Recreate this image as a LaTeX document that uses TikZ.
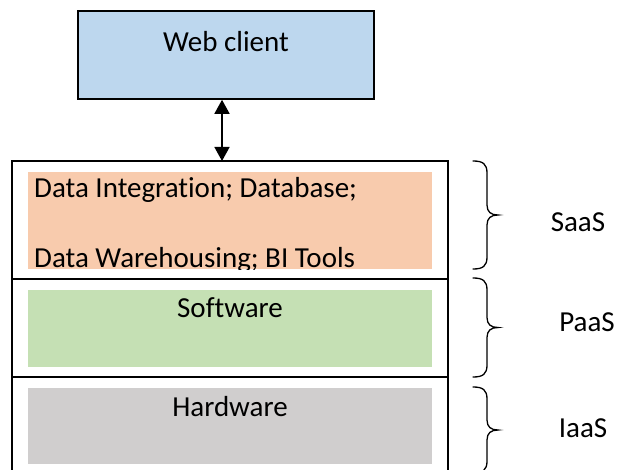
\documentclass[tikz,border=0pt]{standalone}
\usepackage{fontspec}
\setmainfont{Carlito}[Ligatures=NoCommon]
\usetikzlibrary{arrows.meta}
\definecolor{clientblue}{HTML}{BDD7EE}
\definecolor{saasfill}{HTML}{F8CBAD}
\definecolor{paasfill}{HTML}{C5E0B4}
\definecolor{iaasfill}{HTML}{D0CECE}
% curly brace at x=#1 from y=#2 down to y=#3
\newcommand\layerbrace[3]{%
  \pgfmathsetmacro\bracemid{(#2+#3)/2}
  \draw[brace] (#1,#2) .. controls (#1+10,#2) and (#1+14,#2+3) .. (#1+14,#2+12)
    -- (#1+14,\bracemid-10) .. controls (#1+14,\bracemid-3) and (#1+18,\bracemid) .. (#1+25,\bracemid)
    .. controls (#1+18,\bracemid) and (#1+14,\bracemid+3) .. (#1+14,\bracemid+10)
    -- (#1+14,#3-12) .. controls (#1+14,#3-3) and (#1+10,#3) .. (#1,#3);}
\begin{document}
\begin{tikzpicture}[x=1pt, y=-1pt, line join=miter,
    every node/.style = {font=\fontsize{29}{35}\selectfont, inner sep=0pt},
    client/.style = {draw, line width=1.6pt, fill=clientblue, minimum width=296pt, minimum height=88pt},
    layer/.style = {draw=none, minimum width=404pt},
    stackline/.style = {line width=1.6pt},
    brace/.style = {line width=1.3pt, line cap=round}]
    \useasboundingbox (0,0) rectangle (620,470);
    \clip (0,0) rectangle (620,470);

    \node[client] (web) at (226,55) {};
    \node (webtext) at (226,42) {Web client};

    \node[layer, fill=saasfill, minimum height=97pt] (saas) at (230,220.5) {};
    \node[layer, fill=paasfill, minimum height=77pt] (paas) at (230,328.5) {};
    \node[layer, fill=iaasfill, minimum height=76pt] (iaas) at (230,426) {};

    \begin{scope}
      \clip (saas.north west) rectangle (saas.south east);
      \node[anchor=base west] (saastop) at (34,198) {Data Integration; Database;};
      \node[anchor=base west] (saasbottom) at (34,267) {Data Warehousing; BI Tools};
    \end{scope}
    \node[anchor=base] (paastext) at (230,317) {Software};
    \node[anchor=base] (iaastext) at (230,416) {Hardware};

    \coordinate (stacktop) at (222,161);
    \draw[stackline] (12,475) -- (12,161) -- (448,161) -- (448,475);
    \draw[stackline] (12,279) -- (448,279);
    \draw[stackline] (12,377) -- (448,377);
    \draw[stackline, {Triangle[width=15pt,length=14pt]}-{Triangle[width=15pt,length=14pt]}]
      (web.south -| stacktop) -- (stacktop);

    \layerbrace{473}{161}{269}
    \layerbrace{473}{278}{377}
    \layerbrace{473}{387}{473}

    \node (saaslabel) at (578,222) {SaaS};
    \node (paaslabel) at (587,322) {PaaS};
    \node (iaaslabel) at (583,428) {IaaS};
\end{tikzpicture}
\end{document}
